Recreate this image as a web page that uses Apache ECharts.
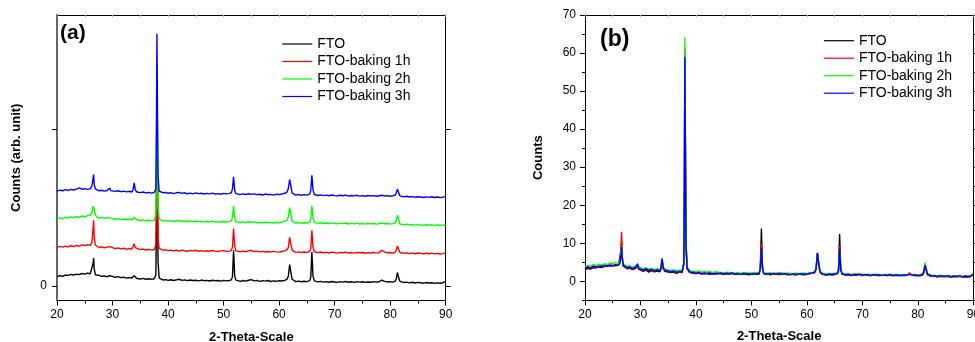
<!DOCTYPE html>
<html>
<head>
<meta charset="utf-8">
<script src="https://cdn.jsdelivr.net/npm/echarts@6/dist/echarts.min.js"></script>
<style>html,body{margin:0;padding:0;background:#fff}#c{width:975px;height:342px}</style>
</head>
<body>
<div id="c"></div>
<script>
// 2-theta sample positions (shared by every series)
const twoTheta = [
  20,20.5,21,21.5,22,22.5,23,23.5,24,24.5,25,25.5,26,
  26.3,26.5,26.6,26.7,26.9,
  27.2,27.6,28,28.5,29,
  29.35,29.5,29.65,
  30,30.5,31,31.5,32,32.5,33,33.5,
  33.7,33.9,34.1,
  34.4,35,35.5,36,36.5,37,37.5,
  37.8,37.92,38,38.08,38.2,38.4,
  38.8,39.2,39.6,40,40.5,41,41.5,42,42.5,43,43.5,44,44.5,45,45.5,46,46.5,47,47.5,48,48.5,49,49.5,50,50.5,51,51.4,
  51.6,51.8,52,52.2,
  52.6,53,53.5,54,54.5,55,55.5,56,56.5,57,57.5,58,58.5,59,59.5,60,60.5,61,61.4,
  61.65,61.9,62.1,62.35,
  62.7,63,63.5,64,64.5,65,65.5,
  65.7,65.9,66.1,66.35,
  66.7,67,67.5,68,68.5,69,69.5,70,70.5,71,71.5,72,72.5,73,73.5,74,74.5,75,75.5,76,76.5,77,77.5,78,78.5,79,79.5,80,80.5,80.9,
  81.1,81.3,81.5,81.75,
  82,82.5,83,83.5,84,84.5,85,85.5,86,86.5,87,87.5,88,88.5,89,89.5,90
];

const seriesNames = ['FTO', 'FTO-baking 1h', 'FTO-baking 2h', 'FTO-baking 3h'];
const seriesColors = ['#000000', '#ff0000', '#00ff00', '#0000ff'];
const xTicksLabels = [20, 30, 40, 50, 60, 70, 80, 90];
const aYLabelValues = [0];
const aYTickValues = [0, 100];
const bYMajorValues = [0, 10, 20, 30, 40, 50, 60, 70];

// ---------- Panel (a): offset curves, arbitrary units ----------
const aFTO = [
  6.0,6.6,6.2,7.0,6.8,7.4,7.0,7.6,7.3,8.0,7.6,8.2,7.8,
  9.0,14.5,17.9,11.0,7.2,
  6.4,6.8,6.1,6.5,5.9,
  6.2,6.6,5.8,
  6.1,5.5,6.0,5.3,5.7,5.0,5.4,5.1,
  5.6,6.6,5.4,
  4.8,4.5,4.9,4.3,4.6,4.2,4.6,
  7,40,100,65,15,5.2,
  4.3,3.8,4.1,3.6,4.0,3.5,3.9,4.3,3.6,3.9,3.4,3.8,3.5,3.7,3.3,3.8,3.4,3.6,3.2,3.7,3.4,3.5,3.1,3.6,3.3,3.5,3.9,
  6,22.8,6.5,3.8,
  3.4,3.0,3.5,3.1,3.7,4.1,3.3,3.6,3.0,3.4,3.1,3.5,2.9,3.3,3.0,3.4,3.2,3.6,4.2,
  6,13.7,9,4.3,
  3.2,2.8,3.1,2.7,3.0,2.8,3.4,
  5.5,21.7,6.5,3.3,
  2.9,2.6,3.0,2.5,2.8,2.4,2.9,2.6,2.3,2.8,2.5,2.9,2.4,2.7,2.3,2.8,2.5,2.7,2.3,2.6,2.4,2.8,2.5,2.7,3.8,3.0,2.6,2.8,2.5,3.1,
  4.5,8.6,5.8,3.0,
  2.6,2.2,2.5,2.0,2.4,1.9,2.3,2.1,1.8,2.2,1.9,2.1,1.7,2.0,1.8,2.1,2.9
];
const aFTO1h = [
  24.6,25.3,24.8,25.5,25.0,25.7,25.2,25.9,25.4,26.2,25.8,26.4,26.0,
  28,37,42,31,26.2,
  25.2,24.6,25.0,24.3,24.8,
  24.4,25.1,24.2,
  24.5,23.9,24.3,23.7,24.1,23.5,23.9,23.6,
  24.8,27,24.5,
  23.6,23.2,23.6,23.0,23.4,22.9,23.3,
  26,60,120,80,30,24,
  23.4,22.8,23.1,22.6,22.9,22.4,22.8,22.3,22.9,22.5,22.2,22.7,22.4,22.8,22.2,22.6,22.1,22.5,22.2,22.7,22.3,22.0,22.4,22.6,22.1,22.3,22.6,
  25,36.7,25.5,22.6,
  22.1,21.8,22.3,21.9,22.4,22.8,22.0,22.3,21.8,22.1,21.7,22.0,21.6,22.1,21.8,21.6,22.0,22.4,23.0,
  24.5,31,27,22.8,
  21.9,21.5,21.8,21.4,21.7,21.5,22.0,
  24,35.6,25,21.9,
  21.6,21.3,21.7,21.2,21.5,21.1,21.6,21.3,21.0,21.5,21.2,21.6,21.1,21.4,21.0,21.5,21.2,21.4,20.9,21.3,21.1,21.5,21.0,21.3,22.8,21.6,21.2,21.4,21.0,21.6,
  23,25.6,23.6,21.4,
  21.1,20.8,21.2,20.7,21.0,20.6,21.1,20.8,20.5,20.9,20.6,21.0,20.5,20.8,20.4,20.7,21.2
];
const aFTO2h = [
  42.8,43.5,43.0,43.8,43.3,44.1,43.6,44.3,43.9,44.7,44.2,45.0,45.3,
  47,51,52.2,49,45.5,
  44.0,43.4,43.8,43.2,43.6,
  43.1,43.5,42.9,
  43.2,42.6,43.0,42.4,42.8,42.3,42.6,42.2,
  42.9,43.7,42.7,
  42.3,41.8,42.2,41.7,42.0,41.6,42.0,
  45,85,142,100,50,43,
  42.0,41.6,41.9,41.3,41.7,41.1,41.5,41.8,41.2,41.6,41.0,41.4,40.9,41.5,41.1,41.3,40.8,41.2,40.9,41.4,40.8,41.1,40.7,41.2,40.9,41.1,41.6,
  44,51,43.5,41.0,
  40.8,40.4,40.9,40.5,41.0,40.6,40.9,40.4,40.7,40.3,40.8,40.4,40.6,40.2,40.7,40.4,40.8,41.3,42.0,
  44,50,46,41.5,
  40.6,40.2,40.5,40.1,40.4,40.2,40.8,
  43,51,43.5,40.6,
  40.3,40.0,40.4,39.9,40.2,39.8,40.3,39.9,39.7,40.1,39.8,40.2,39.6,40.0,39.7,40.1,39.6,39.9,39.5,40.0,39.7,39.9,39.5,39.8,40.2,39.7,39.9,39.5,39.8,40.3,
  42,45.2,42.5,39.6,
  39.4,39.1,39.5,39.0,39.3,38.9,39.2,39.0,38.7,39.1,38.8,39.2,38.7,39.0,38.6,38.9,39.3
];
const aFTO3h = [
  60.6,61.2,60.8,61.5,61.0,61.7,61.3,61.9,62.6,61.8,62.2,61.7,62.0,
  64,69,71.2,65,62,
  61.3,60.8,61.1,60.6,61.0,
  61.2,62.6,60.9,
  61.0,60.4,60.8,60.2,60.6,60.1,60.5,60.0,
  61.5,65.9,61.3,
  60.0,59.6,60.0,59.4,59.8,59.3,59.7,
  62,110,161,120,70,60.5,
  60.0,59.5,59.8,59.2,59.6,59.0,59.5,59.8,59.1,59.5,58.9,59.3,58.8,59.4,59.0,59.2,58.7,59.1,58.8,59.3,58.7,59.0,58.6,59.1,58.8,59.0,59.6,
  62,69.7,61,59.0,
  58.7,58.3,58.8,58.4,58.9,58.5,58.8,58.3,58.6,58.1,58.7,58.3,58.5,58.0,58.6,58.3,58.7,59.2,60.0,
  62,68,64,59.4,
  58.5,58.0,58.4,57.9,58.3,58.0,58.7,
  61,70.6,61.5,58.4,
  58.1,57.8,58.2,57.7,58.0,57.6,58.1,57.7,57.5,57.9,57.6,58.0,57.4,57.8,57.5,57.9,57.4,57.7,57.3,57.8,57.5,57.7,57.3,57.6,57.9,57.5,57.7,57.3,57.6,58.0,
  59.5,61.8,59.8,57.5,
  57.2,56.9,57.3,56.8,57.1,56.7,57.0,56.8,56.5,56.9,56.6,57.0,56.5,56.8,56.4,56.7,57.1
];

// ---------- Panel (b): counts ----------
const bFTO = [
  3.1,3.4,3.2,3.6,3.5,3.8,3.6,4.0,3.9,4.2,4.0,4.3,4.1,
  4.6,8.0,10.5,6.2,4.0,
  3.5,3.3,3.5,3.1,3.3,
  3.4,4.0,3.2,
  2.9,2.6,3.0,2.4,2.8,2.5,2.7,2.5,
  3.3,5.3,3.4,
  2.6,2.4,2.3,2.4,2.1,2.4,2.3,
  4.4,25,60,40,10,3.3,
  2.4,2.2,2.1,2.0,2.2,1.9,2.1,2.0,1.8,2.1,1.9,2.0,2.1,1.8,2.0,1.9,2.1,1.8,1.9,2.0,1.8,1.9,1.7,1.9,2.0,1.8,1.9,
  3.4,13.9,3.8,2.1,
  1.8,1.9,1.7,2.0,1.8,2.2,1.8,2.1,1.7,1.9,1.8,1.7,1.9,1.8,1.7,1.9,2.0,2.1,2.3,
  3.1,7.4,5.1,2.5,
  1.9,1.7,1.6,1.8,1.7,1.8,2.0,
  3.0,12.4,3.3,1.9,
  1.8,1.7,1.8,1.5,1.7,1.6,1.8,1.5,1.7,1.6,1.5,1.7,1.6,1.5,1.7,1.6,1.5,1.7,1.5,1.6,1.5,1.7,1.5,1.6,1.9,1.7,1.5,1.6,1.5,1.7,
  2.4,4.3,3.0,1.7,
  1.5,1.3,1.4,1.2,1.3,1.2,1.4,1.2,1.1,1.3,1.2,1.3,1.1,1.2,1.1,1.2,1.6
];
const bFTO1h = [
  3.6,3.9,3.3,4.1,3.7,3.9,4.0,3.8,4.3,3.9,4.2,4.0,4.3,
  5.0,9.5,13.0,7.0,4.3,
  3.7,3.4,3.7,3.2,3.5,
  3.6,4.3,3.3,
  3.1,2.9,3.2,2.8,3.0,2.7,3.0,2.7,
  3.5,5.6,3.5,
  2.8,2.6,2.5,2.6,2.3,2.5,2.4,
  4.6,26,61.5,41,10,3.4,
  2.5,2.2,2.3,2.0,2.2,2.1,1.9,2.1,2.2,1.9,2.0,2.1,1.9,2.0,2.1,1.8,2.1,1.9,1.8,2.0,1.9,1.8,2.0,1.9,1.8,2.0,2.1,
  3.3,9.9,3.5,2.1,
  1.8,1.9,2.0,1.8,1.9,1.7,2.0,1.8,1.9,1.8,1.9,1.7,1.9,1.8,2.0,1.8,2.0,2.1,2.3,
  3.1,7.3,5.0,2.5,
  1.9,1.8,1.6,1.8,1.7,1.8,2.0,
  2.9,9.2,3.1,1.9,
  1.8,1.6,1.7,1.5,1.7,1.6,1.8,1.5,1.7,1.6,1.5,1.7,1.6,1.5,1.6,1.7,1.5,1.6,1.5,1.7,1.5,1.6,1.5,1.6,2.2,1.6,1.5,1.6,1.5,1.8,
  2.5,4.4,3.1,1.7,
  1.5,1.3,1.4,1.2,1.4,1.3,1.2,1.4,1.1,1.3,1.2,1.4,1.1,1.3,1.2,1.3,1.8
];
const bFTO2h = [
  3.9,4.2,4.0,4.4,4.2,4.5,4.3,4.6,4.4,4.8,4.6,5.0,4.6,
  5.2,7.5,9.2,6.4,4.6,
  4.1,3.9,4.1,3.7,3.9,
  3.9,4.2,3.7,
  3.6,3.3,3.5,3.2,3.4,3.1,3.3,3.0,
  3.7,5.5,3.8,
  3.2,3.0,2.9,3.0,2.8,2.9,2.8,
  5,28,64.1,43,11,3.8,
  2.9,2.7,2.6,2.5,2.7,2.4,2.6,2.4,2.6,2.3,2.5,2.4,2.3,2.2,2.4,2.3,2.2,2.1,2.3,2.1,2.2,2.3,2.1,2.2,2.3,2.2,2.4,
  3.2,8.2,3.5,2.3,
  2.2,2.1,2.3,2.0,2.2,2.1,2.3,2.0,2.2,2.1,1.9,2.2,2.0,2.1,2.2,2.0,2.2,2.3,2.5,
  3.3,7.2,5.2,2.8,
  2.2,2.0,1.9,2.1,2.0,2.1,2.2,
  2.9,8.2,3.1,2.2,
  2.0,1.9,2.0,1.8,1.9,2.0,1.8,1.9,1.7,1.9,1.8,1.7,1.9,1.8,1.6,1.8,1.7,1.9,1.6,1.8,1.7,1.8,1.6,1.7,1.9,1.7,1.8,1.6,1.8,2.0,
  2.8,4.9,3.4,2.0,
  1.7,1.5,1.6,1.4,1.6,1.3,1.5,1.4,1.2,1.5,1.3,1.4,1.2,1.3,1.4,1.3,2.0
];
const bFTO3h = [
  3.4,3.7,3.5,3.9,3.8,4.0,3.9,4.2,4.0,4.3,4.1,4.4,4.2,
  4.8,7.2,9.0,6.0,4.2,
  3.9,3.6,3.8,3.4,3.6,
  3.8,4.6,3.4,
  3.3,3.0,3.3,2.9,3.1,2.8,3.0,2.7,
  3.6,6.0,3.6,
  2.9,2.7,2.5,2.7,2.4,2.6,2.5,
  4.5,25,58.9,40,10,3.5,
  2.6,2.3,2.4,2.1,2.3,2.0,2.2,2.0,2.2,1.9,2.1,2.0,2.2,1.9,2.1,2.0,2.2,1.9,2.0,1.8,2.1,1.9,2.0,1.8,2.0,1.9,2.2,
  3.2,8.6,3.4,2.1,
  1.9,2.0,1.8,2.1,1.9,2.0,1.8,2.0,1.9,1.7,2.0,1.8,1.9,2.0,1.8,1.9,2.1,2.2,2.4,
  3.2,7.5,5.0,2.6,
  2.0,1.8,1.7,1.9,1.8,1.9,2.1,
  2.8,8.6,3.0,2.0,
  1.9,1.7,1.8,1.6,1.8,1.7,1.9,1.6,1.8,1.7,1.5,1.8,1.6,1.7,1.5,1.7,1.6,1.8,1.5,1.7,1.6,1.5,1.7,1.6,1.8,1.6,1.7,1.5,1.7,1.9,
  2.6,4.2,3.2,1.9,
  1.6,1.4,1.5,1.3,1.5,1.4,1.3,1.5,1.2,1.4,1.3,1.5,1.2,1.4,1.3,1.4,1.9
];

const panelA = [aFTO, aFTO1h, aFTO2h, aFTO3h];
const panelB = [bFTO, bFTO1h, bFTO2h, bFTO3h];
[...panelA, ...panelB].forEach((arr, k) => {
  if (arr.length !== twoTheta.length) throw new Error('series ' + k + ' has ' + arr.length + ' points, expected ' + twoTheta.length);
});
const toPts = ys => twoTheta.map((x, i) => [x, ys[i]]);

const FONT = 'Liberation Sans, Arial, Helvetica, sans-serif';
const chart = echarts.init(document.getElementById('c'), null, { renderer: 'canvas' });

function bottomX(gridIndex) {
  return {
    type: 'value', gridIndex, position: 'bottom', min: 20, max: 90, interval: 10,
    name: '2-Theta-Scale', nameLocation: 'middle', nameGap: 30,
    nameTextStyle: { fontFamily: FONT, fontSize: 13, fontWeight: 'bold', color: '#000' },
    axisLine: { onZero: false, lineStyle: { color: '#000', width: 1 } },
    axisTick: { show: true, inside: false, length: 5, lineStyle: { color: '#000' } },
    minorTick: { show: true, splitNumber: 2, length: 3, lineStyle: { color: '#000' } },
    axisLabel: { fontFamily: FONT, fontSize: 12, color: '#000', margin: 8,
      formatter: v => (xTicksLabels.includes(v) ? String(v) : '') },
    splitLine: { show: false }, minorSplitLine: { show: false }
  };
}
function topX(gridIndex) {
  return {
    type: 'value', gridIndex, position: 'top', min: 20, max: 90, interval: 5,
    axisLine: { onZero: false, lineStyle: { color: '#000', width: 1 } },
    axisTick: { show: true, inside: true, length: 2, lineStyle: { color: '#aaa' } },
    axisLabel: { show: false }, splitLine: { show: false }
  };
}

const yAxes = [
  // (a) left
  {
    type: 'value', gridIndex: 0, position: 'left', min: -9.25, max: 173,
    name: 'Counts (arb. unit)', nameLocation: 'middle', nameGap: 34,
    nameTextStyle: { fontFamily: FONT, fontSize: 13, fontWeight: 'bold', color: '#000' },
    axisLine: { show: true, onZero: false, lineStyle: { color: '#666', width: 2 } },
    axisTick: { show: true, length: 5, customValues: aYTickValues, lineStyle: { color: '#000' } },
    axisLabel: { show: true, customValues: aYLabelValues, fontFamily: FONT, fontSize: 12, color: '#000', margin: 10 },
    splitLine: { show: false }
  },
  // (a) right
  {
    type: 'value', gridIndex: 0, position: 'right', min: -9.25, max: 173,
    axisLine: { show: true, onZero: false, lineStyle: { color: '#000', width: 1 } },
    axisTick: { show: true, length: 5, customValues: aYTickValues, lineStyle: { color: '#000' } },
    axisLabel: { show: false }, splitLine: { show: false }
  },
  // (b) left (minor ticks every 5 + labels every 10)
  {
    type: 'value', gridIndex: 1, position: 'left', min: -5, max: 70, interval: 5,
    name: 'Counts', nameLocation: 'middle', nameGap: 40,
    nameTextStyle: { fontFamily: FONT, fontSize: 13, fontWeight: 'bold', color: '#000' },
    axisLine: { show: true, onZero: false, lineStyle: { color: '#000', width: 1 } },
    axisTick: { show: true, length: 3, lineStyle: { color: '#000' } },
    axisLabel: { fontFamily: FONT, fontSize: 12, color: '#000', margin: 9,
      formatter: v => (bYMajorValues.includes(v) ? String(v) : '') },
    splitLine: { show: false }
  },
  // (b) left major ticks
  {
    type: 'value', gridIndex: 1, position: 'left', min: -5, max: 70,
    axisLine: { show: false },
    axisTick: { show: true, length: 5, customValues: bYMajorValues, lineStyle: { color: '#000' } },
    axisLabel: { show: false }, splitLine: { show: false }
  },
  // (b) right minor
  {
    type: 'value', gridIndex: 1, position: 'right', min: -5, max: 70, interval: 5,
    axisLine: { show: true, onZero: false, lineStyle: { color: '#000', width: 1 } },
    axisTick: { show: true, length: 3, lineStyle: { color: '#000' } },
    axisLabel: { show: false }, splitLine: { show: false }
  },
  // (b) right major
  {
    type: 'value', gridIndex: 1, position: 'right', min: -5, max: 70,
    axisLine: { show: false },
    axisTick: { show: true, length: 5, customValues: bYMajorValues, lineStyle: { color: '#000' } },
    axisLabel: { show: false }, splitLine: { show: false }
  }
];

const series = [];
panelA.forEach((ys, i) => series.push({
  name: seriesNames[i], type: 'line', xAxisIndex: 0, yAxisIndex: 0, data: toPts(ys),
  symbol: 'none', showSymbol: false, color: seriesColors[i],
  lineStyle: { width: 1.4, color: seriesColors[i] }, silent: true
}));
panelB.forEach((ys, i) => series.push({
  name: seriesNames[i], type: 'line', xAxisIndex: 2, yAxisIndex: 2, data: toPts(ys),
  symbol: 'none', showSymbol: false, color: seriesColors[i],
  lineStyle: { width: 1.4, color: seriesColors[i] }, silent: true
}));

const legendCommon = {
  orient: 'vertical', padding: 0, itemWidth: 30, itemHeight: 14, itemGap: 3.5,
  selectedMode: false, data: seriesNames,
  itemStyle: { opacity: 0, borderWidth: 0 },
  lineStyle: { width: 1.2 },
  textStyle: { fontFamily: FONT, fontSize: 14, color: '#000' }
};

chart.setOption({
  animation: false,
  backgroundColor: '#fff',
  grid: [
    { left: 57, top: 15, width: 388.7, height: 285.5, outerBoundsMode: 'none', containLabel: false },
    { left: 585, top: 15, width: 388.3, height: 285.3, outerBoundsMode: 'none', containLabel: false }
  ],
  xAxis: [bottomX(0), topX(0), bottomX(1), topX(1)],
  yAxis: yAxes,
  legend: [
    Object.assign({ left: 281.7, top: 37 }, legendCommon),
    Object.assign({ left: 823.3, top: 33.7 }, legendCommon)
  ],
  graphic: [
    { type: 'text', left: 60, top: 23, style: { text: '(a)', font: 'bold 21px ' + FONT, fill: '#000' } },
    { type: 'text', left: 600, top: 28, style: { text: '(b)', font: 'bold 23px ' + FONT, fill: '#000' } }
  ],
  series
});
</script>
</body>
</html>
